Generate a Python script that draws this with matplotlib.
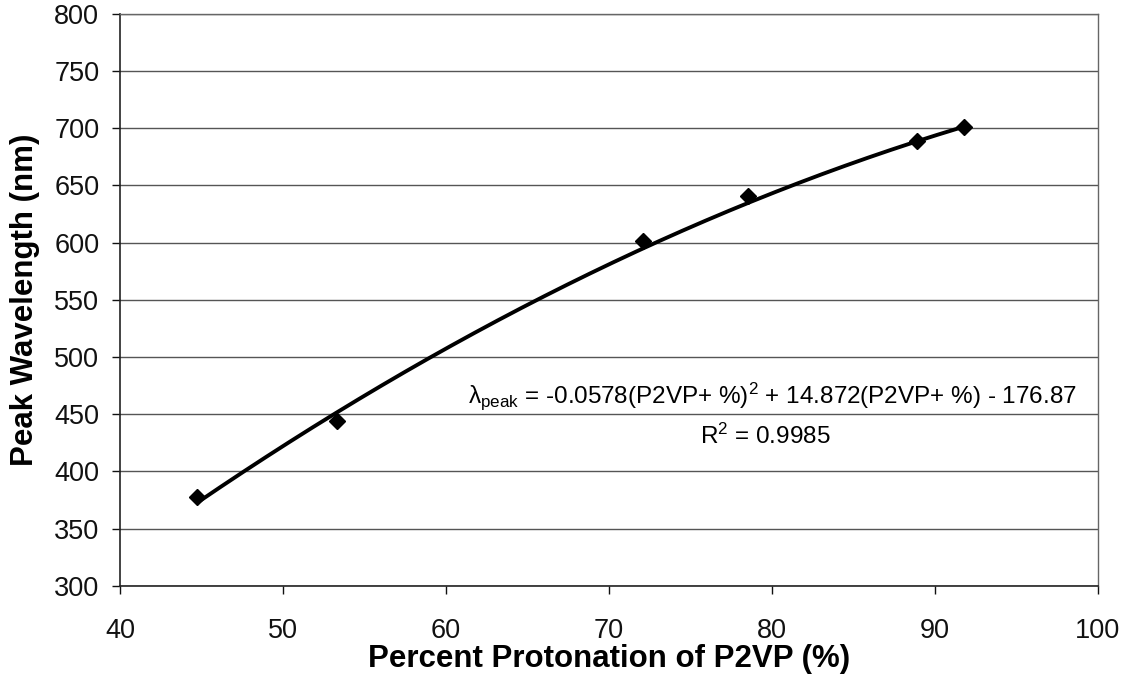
import numpy as np
import matplotlib
matplotlib.use("Agg")
import matplotlib.pyplot as plt

# Measured peak wavelength vs. degree of P2VP protonation
protonation_pct = [44.7, 53.3, 72.1, 78.5, 88.9, 91.8]
peak_wavelength_nm = [378, 444, 601, 641, 689, 701]

# Quadratic trendline coefficients (a*x^2 + b*x + c) and fit quality
fit_a = -0.0578
fit_b = 14.872
fit_c = -176.87
fit_r2 = 0.9985

x_ticks = [40, 50, 60, 70, 80, 90, 100]
y_ticks = [300, 350, 400, 450, 500, 550, 600, 650, 700, 750, 800]

plt.rcParams["font.family"] = ["Liberation Sans", "DejaVu Sans"]
plt.rcParams["mathtext.fontset"] = "custom"
plt.rcParams["mathtext.rm"] = "Liberation Sans"
plt.rcParams["mathtext.it"] = "Liberation Sans:italic"
plt.rcParams["mathtext.bf"] = "Liberation Sans:bold"

fig = plt.figure(figsize=(11.33, 6.79), dpi=100)
ax = fig.add_axes([0.106, 0.137, 0.863, 0.843])

ax.set_xlim(40, 100)
ax.set_ylim(300, 800)
ax.set_xticks(x_ticks)
ax.set_yticks(y_ticks)

ax.grid(axis="y", color="#555555", linewidth=1.0)
ax.set_axisbelow(True)

for side in ("left", "bottom"):
    ax.spines[side].set_color("#222222")
    ax.spines[side].set_linewidth(1.2)
for side in ("top", "right"):
    ax.spines[side].set_color("#666666")
    ax.spines[side].set_linewidth(1.0)

ax.tick_params(axis="y", direction="out", length=6, width=1, pad=9,
               labelsize=19.5, colors="#111111")
ax.tick_params(axis="x", direction="out", length=6, width=1, pad=17,
               labelsize=19.5, colors="#111111")

# Trendline evaluated from the stated coefficients
xs = np.linspace(min(protonation_pct), max(protonation_pct), 200)
ys = fit_a * xs**2 + fit_b * xs + fit_c
ax.plot(xs, ys, color="black", linewidth=2.8, solid_capstyle="butt", zorder=3)

ax.plot(protonation_pct, peak_wavelength_nm, linestyle="none", marker="D",
        markersize=8, color="black", zorder=4)

ax.set_xlabel("Percent Protonation of P2VP (%)", fontsize=22.5,
              fontweight="bold", labelpad=0)
ax.set_ylabel("Peak Wavelength (nm)", fontsize=22.5, fontweight="bold",
              labelpad=10)

eq_text = (r"λ$_{\mathrm{peak}}$ = " + f"{fit_a:.4f}" + r"(P2VP+ %)$^{2}$ + "
           + f"{fit_b:.3f}" + r"(P2VP+ %) - " + f"{abs(fit_c):.2f}")
ax.text(0.667, 0.332, eq_text, transform=ax.transAxes, ha="center",
        va="center", fontsize=17.5)
ax.text(0.66, 0.262, r"R$^{2}$ = " + f"{fit_r2:.4f}", transform=ax.transAxes,
        ha="center", va="center", fontsize=17.5)

fig.savefig("out.png", dpi=100)
